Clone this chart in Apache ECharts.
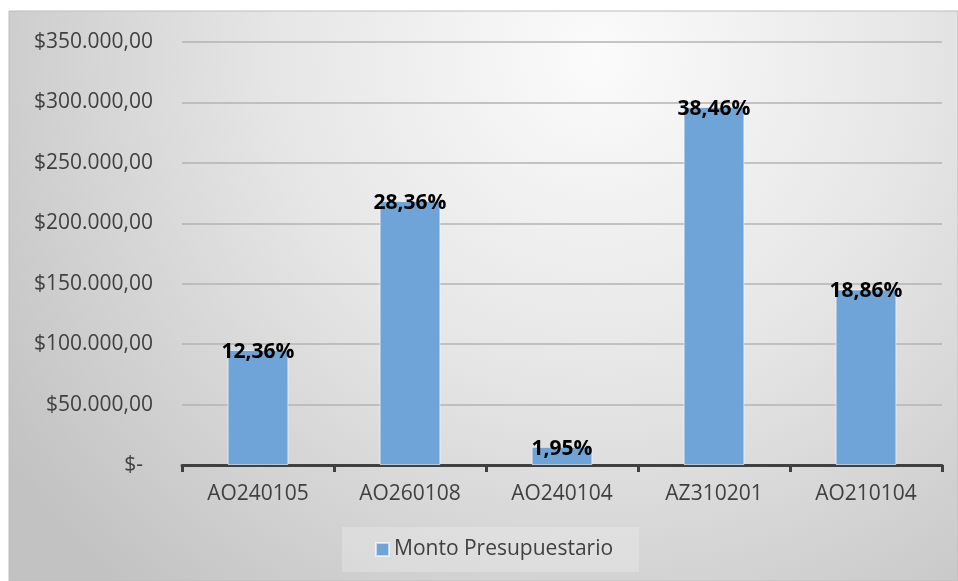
<!DOCTYPE html>
<html>
<head>
<meta charset="utf-8">
<script src="https://cdn.jsdelivr.net/npm/echarts@6/dist/echarts.min.js"></script>
<style>
html,body{margin:0;padding:0;background:#fff;}
#chart{width:958px;height:581px;}
</style>
</head>
<body>
<div id="chart"></div>
<script>
const categories = ['AO240105', 'AO260108', 'AO240104', 'AZ310201', 'AO210104'];
const montos = [95170, 218370, 15020, 296140, 145220];
const porcentajes = ['12,36%', '28,36%', '1,95%', '38,46%', '18,86%'];
const seriesName = 'Monto Presupuestario';
const yMax = 350000;
const yInterval = 50000;

const FONT = 'Open Sans';
const FS = 21;
const chart = echarts.init(document.getElementById('chart'), null, {renderer: 'canvas'});

function fmtMoney(v) {
  if (v === 0) return '{z|$-}';
  const s = Math.round(v).toString().replace(/\B(?=(\d{3})+(?!\d))/g, '.');
  return '$' + s + ',00';
}

chart.setOption({
  animation: false,
  graphic: [{
    type: 'rect',
    z: -10,
    silent: true,
    shape: {x: 9, y: 11, width: 949, height: 570},
    style: {
      fill: new echarts.graphic.RadialGradient(0.62, 0.08, 1.25, [
        {offset: 0, color: '#fbfbfb'},
        {offset: 0.45, color: '#e6e6e6'},
        {offset: 1, color: '#c2c2c2'}
      ]),
      stroke: '#bdbdbd',
      lineWidth: 1
    }
  }],
  grid: {left: 182, right: 16, top: 42, bottom: 116, containLabel: false},
  legend: {
    data: [seriesName],
    left: 342,
    top: 527,
    padding: [12, 26, 12, 33],
    backgroundColor: 'rgba(255,255,255,0.22)',
    itemWidth: 13,
    itemHeight: 13,
    icon: 'rect',
    textStyle: {fontFamily: FONT, fontSize: FS, color: '#404040'}
  },
  xAxis: {
    type: 'category',
    data: categories,
    axisLine: {lineStyle: {color: '#404040', width: 3}},
    axisTick: {show: true, length: 7, lineStyle: {color: '#404040', width: 3}},
    axisLabel: {fontFamily: FONT, fontSize: FS, color: '#404040', margin: 19}
  },
  yAxis: {
    type: 'value',
    min: 0,
    max: yMax,
    interval: yInterval,
    axisLine: {show: false},
    axisTick: {show: false},
    splitLine: {lineStyle: {color: '#b3b3b3', width: 1.5}},
    axisLabel: {
      fontFamily: FONT, fontSize: FS, color: '#404040', margin: 29,
      formatter: fmtMoney,
      rich: {z: {fontFamily: FONT, fontSize: FS, color: '#404040', padding: [0, 10, 0, 0]}}
    }
  },
  series: [{
    name: seriesName,
    type: 'bar',
    data: montos,
    barWidth: '40%',
    itemStyle: {color: '#6ea4d7', borderColor: 'rgba(255,255,255,0.6)', borderWidth: 1},
    label: {
      show: true,
      position: 'top',
      distance: 0,
      offset: [0, 2],
      verticalAlign: 'middle',
      fontFamily: FONT,
      fontSize: FS,
      fontWeight: 'bold',
      color: '#000',
      formatter: p => porcentajes[p.dataIndex]
    }
  }]
});
</script>
</body>
</html>
